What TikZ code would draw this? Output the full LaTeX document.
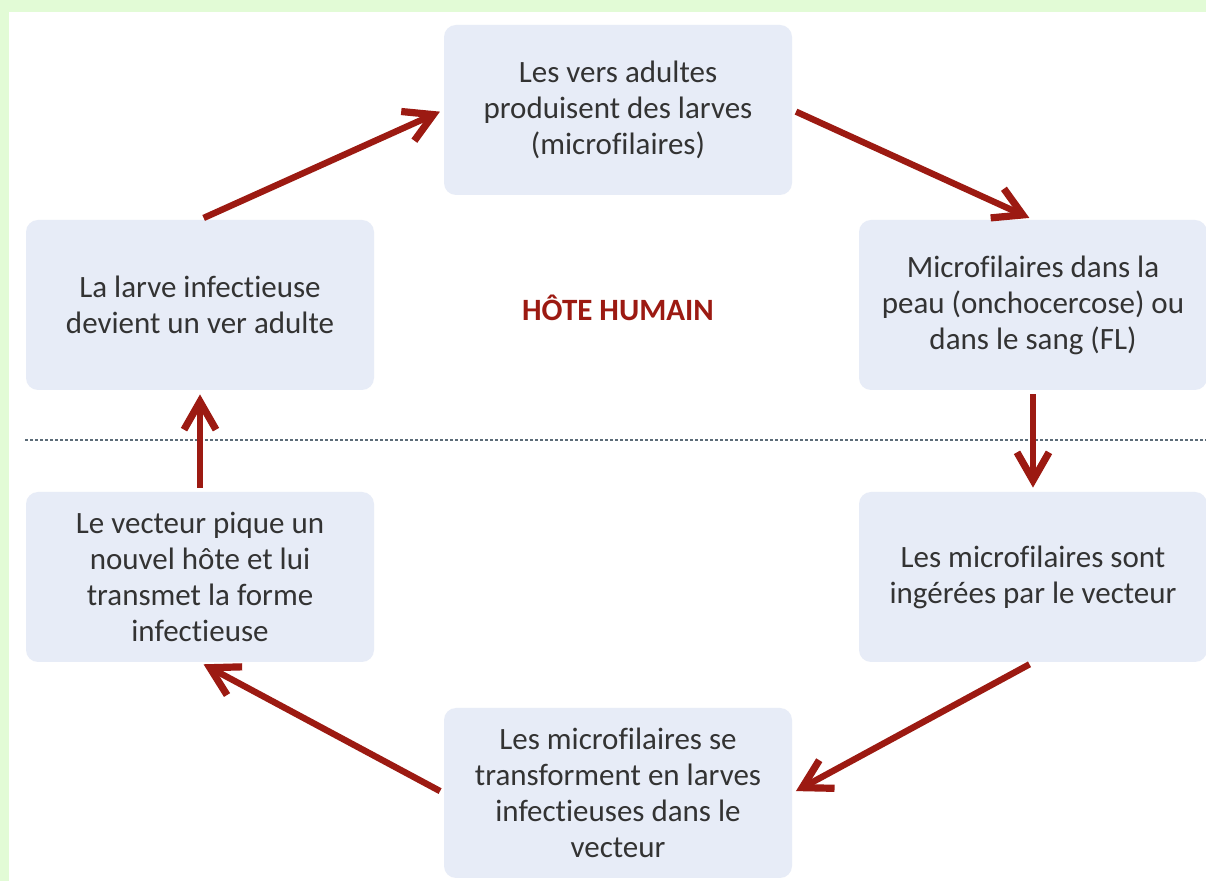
\documentclass[tikz,border=0pt]{standalone}
\usepackage{fontspec}
\setmainfont{Carlito}[Ligatures=NoCommon]
\usetikzlibrary{arrows.meta}
\definecolor{cycred}{HTML}{9C1A12}
\definecolor{boxblue}{HTML}{E7ECF7}
\definecolor{framegreen}{HTML}{E2FBD6}
\definecolor{txtgray}{HTML}{333333}
\definecolor{dotgray}{HTML}{5C6C78}

\tikzset{
  stage/.style={fill=boxblue, rounded corners=6pt, minimum width=174pt, minimum height=85pt,
    align=center, text=txtgray, font=\fontsize{15.5}{18}\selectfont, inner sep=0pt},
  cyc/.style={cycred, line width=3.2pt, -{Straight Barb[length=14pt,width=16pt,line width=3.6pt]},
    shorten <=2pt, shorten >=2pt}
}

\begin{document}
\begin{tikzpicture}[x=0.5pt, y=-0.5pt]
\useasboundingbox (0,0) rectangle (1206,881);
\fill[framegreen] (0,0) rectangle (1206,881);
\fill[white] (9,12) rectangle (1206,881);
% separation between host and vector
\draw[dotgray, line width=1.4pt, dash pattern=on 1.3pt off 1.2pt] (25,440) -- (1206,440);
% the six stages
\node[stage] (adults) at (618,110) {Les vers adultes\\produisent des larves\\(microfilaires)};
\node[stage] (skin) at (1033,305) {Microfilaires dans la\\peau (onchocercose) ou\\dans le sang (FL)};
\node[stage] (ingest) at (1033,577) {Les microfilaires sont\\ingérées par le vecteur};
\node[stage] (transf) at (618,793) {Les microfilaires se\\transforment en larves\\infectieuses dans le\\vecteur};
\node[stage] (bite) at (200,577) {Le vecteur pique un\\nouvel hôte et lui\\transmet la forme\\infectieuse};
\node[stage] (worm) at (200,305) {La larve infectieuse\\devient un ver adulte};
\node[cycred, font=\bfseries\fontsize{15.5}{18}\selectfont] (host) at (618,308) {HÔTE HUMAIN};
% cycle
\draw[cyc] (worm.north) -- (adults.west);
\draw[cyc] (adults.east) -- (skin.north);
\draw[cyc] (skin.south) -- (ingest.north);
\draw[cyc] (ingest.south) -- (transf.east);
\draw[cyc] (transf.west) -- (bite.south);
\draw[cyc] (bite.north) -- (worm.south);
\end{tikzpicture}
\end{document}
